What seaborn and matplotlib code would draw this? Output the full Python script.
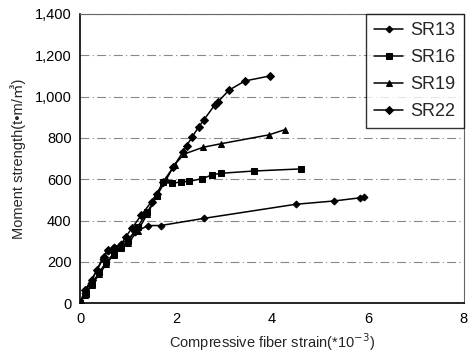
import matplotlib
matplotlib.use("Agg")
import matplotlib.pyplot as plt
import seaborn as sns
import pandas as pd
from matplotlib.ticker import FuncFormatter

sns.set_theme(style="white")
plt.rcParams['font.family'] = ['Liberation Sans', 'Noto Sans CJK KR', 'DejaVu Sans']

series_names = ["SR13", "SR16", "SR19", "SR22"]

sr13_x = [0, 0.1, 0.22, 0.35, 0.48, 0.58, 0.7, 0.85, 1.0, 1.15, 1.42, 1.68, 2.59, 4.5, 5.3, 5.83, 5.92]
sr13_y = [0, 50, 100, 160, 215, 255, 270, 285, 310, 345, 376, 376, 411, 479, 495, 510, 512]

sr16_x = [0, 0.12, 0.25, 0.4, 0.55, 0.7, 0.85, 1.0, 1.2, 1.4, 1.6, 1.72, 1.91, 2.1, 2.27, 2.55, 2.76, 2.94, 3.63, 4.6]
sr16_y = [0, 45, 95, 150, 200, 240, 270, 300, 370, 440, 520, 586, 580, 587, 590, 603, 622, 629, 640, 650]

sr19_x = [0, 0.1, 0.25, 0.4, 0.55, 0.7, 0.85, 1.0, 1.2, 1.4, 1.6, 1.8, 1.97, 2.17, 2.57, 2.94, 3.94, 4.27]
sr19_y = [0, 40, 90, 140, 190, 235, 265, 290, 350, 430, 520, 600, 670, 722, 755, 772, 815, 840]

sr22_x = [0, 0.1, 0.24, 0.35, 0.49, 0.59, 0.7, 0.83, 0.95, 1.08, 1.28, 1.49, 1.6, 1.74, 1.94, 2.15, 2.22, 2.34, 2.48, 2.58, 2.81, 2.88, 3.11, 3.44, 3.96]
sr22_y = [0, 64, 113, 161, 226, 258, 265, 274, 320, 363, 427, 492, 530, 589, 658, 734, 761, 806, 855, 887, 960, 976, 1032, 1076, 1100]

x_ticks = [0, 2, 4, 6, 8]
y_ticks = [0, 200, 400, 600, 800, 1000, 1200, 1400]

xs = [sr13_x, sr16_x, sr19_x, sr22_x]
ys = [sr13_y, sr16_y, sr19_y, sr22_y]
markers = ['D', 's', '^', 'D']
msizes = [3.5, 4.5, 5, 4.5]

fig = plt.figure(figsize=(4.68, 3.58), dpi=100)
ax = fig.add_axes([0.171, 0.153, 0.82, 0.808])

for yt in y_ticks[1:]:
    ax.axhline(yt, color='#888888', lw=0.8, ls=(0, (8, 3, 1, 3)), zorder=0)

for name, x, y, m, ms in zip(series_names, xs, ys, markers, msizes):
    df = pd.DataFrame({"x": x, "y": y})
    sns.lineplot(data=df, x="x", y="y", sort=False, ax=ax, color='black', lw=1.1,
                 marker=m, markersize=ms, markeredgecolor='black', markerfacecolor='black',
                 label=name, zorder=3)

ax.set_xlim(0, 8)
ax.set_ylim(0, 1400)
ax.set_xticks(x_ticks)
ax.set_yticks(y_ticks)
ax.yaxis.set_major_formatter(FuncFormatter(lambda v, p: f"{int(v):,}"))
ax.tick_params(direction='in', length=3, labelsize=10.5, colors='black', width=0.8, pad=6)
ax.set_xlabel("Compressive fiber strain(*10$^{-3}$)", fontsize=10.5, labelpad=4)
ax.set_ylabel("Moment strength(t•m/㎥)", fontsize=10.5, labelpad=6)

for s in ['left', 'bottom']:
    ax.spines[s].set_color('black')
    ax.spines[s].set_linewidth(1.2)
for s in ['top', 'right']:
    ax.spines[s].set_color('#666666')
    ax.spines[s].set_linewidth(0.8)
    ax.spines[s].set_linestyle((0, (2, 1)))

leg = ax.legend(loc='upper right', fontsize=13, frameon=True, fancybox=False,
                edgecolor='black', borderaxespad=0.0, handlelength=1.6,
                handletextpad=0.4, labelspacing=0.55, borderpad=0.45)
leg.get_frame().set_linewidth(1.0)

fig.savefig("out.png", dpi=100)
